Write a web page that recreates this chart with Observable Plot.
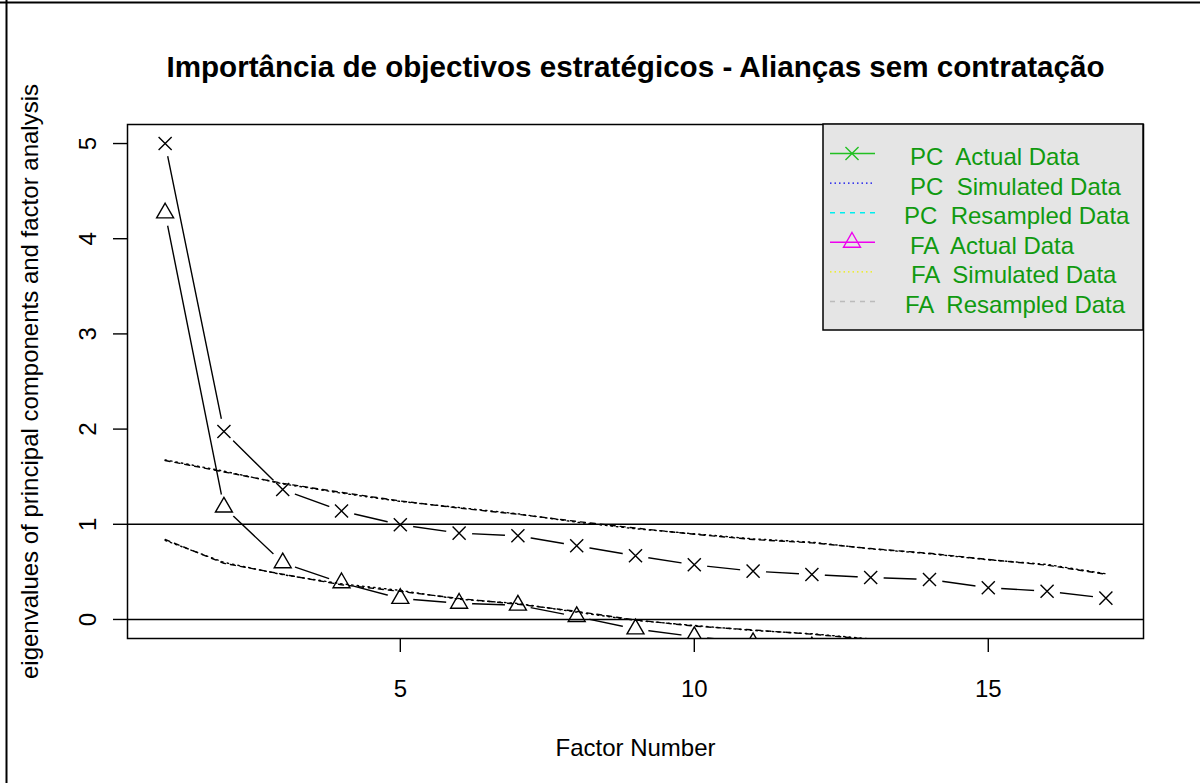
<!DOCTYPE html>
<html>
<head>
<meta charset="utf-8">
<script src="https://cdn.jsdelivr.net/npm/d3@7"></script>
<script src="https://cdn.jsdelivr.net/npm/@observablehq/plot@0.6"></script>
<style>
  html, body { margin: 0; padding: 0; background: white; }
  #chart svg { display: block; }
</style>
</head>
<body>
<div id="chart"></div>
<script>
// ---- data ----
const factors = [1, 2, 3, 4, 5, 6, 7, 8, 9, 10, 11, 12, 13, 14, 15, 16, 17];
const pcActual = [5.00, 1.975, 1.365, 1.14, 0.995, 0.907, 0.879, 0.774, 0.669, 0.574, 0.508, 0.473, 0.441, 0.42, 0.333, 0.297, 0.224];
const pcSimulated = [1.677, 1.558, 1.425, 1.327, 1.24, 1.176, 1.11, 1.022, 0.953, 0.90, 0.847, 0.812, 0.742, 0.69, 0.627, 0.578, 0.48];
const pcResampled = [1.67, 1.55, 1.43, 1.335, 1.245, 1.17, 1.105, 1.03, 0.96, 0.895, 0.84, 0.805, 0.745, 0.695, 0.63, 0.57, 0.475];
const faActual = [4.27, 1.18, 0.595, 0.385, 0.22, 0.17, 0.15, 0.03, -0.10, -0.18, -0.245, -0.29, -0.33, -0.38, -0.42, -0.47, -0.52];
const faSimulated = [0.83, 0.60, 0.47, 0.375, 0.305, 0.212, 0.168, 0.077, -0.01, -0.063, -0.116, -0.15, -0.205, -0.26, -0.31, -0.36, -0.42];
const faResampled = [0.84, 0.59, 0.475, 0.365, 0.295, 0.22, 0.16, 0.085, -0.005, -0.07, -0.11, -0.155, -0.21, -0.255, -0.30, -0.355, -0.41];
const xTicks = [5, 10, 15];
const yTicks = [0, 1, 2, 3, 4, 5];
const refLines = [0, 1];
const titleText = "Importância de objectivos estratégicos - Alianças sem contratação";
const xLabel = "Factor Number";
const yLabel = "eigenvalues of principal components and factor analysis";
const legendLabels = ["PC  Actual Data", "PC  Simulated Data", "PC  Resampled Data", "FA  Actual Data", "FA  Simulated Data", "FA  Resampled Data"];
const legendColors = ["#22c022", "#0000ee", "#00eeee", "#ee00ee", "#eeee00", "#bbbbbb"];

// ---- tables ----
const toRows = vals => factors.map((f, i) => ({f, v: vals[i]}));
const pc = toRows(pcActual), pcS = toRows(pcSimulated), pcR = toRows(pcResampled);
const fa = toRows(faActual), faS = toRows(faSimulated), faR = toRows(faResampled);

const font = "'Liberation Sans', Arial, sans-serif";
const lw = 1.4;

const chart = Plot.plot({
  width: 1200,
  height: 783,
  marginLeft: 127,
  marginRight: 57,
  marginTop: 124,
  marginBottom: 145,
  style: {fontFamily: font, fontSize: "24px", background: "white", color: "black"},
  x: {domain: [0.36, 17.64], ticks: xTicks, tickSize: 14, tickPadding: 27, label: null},
  y: {domain: [-0.2, 5.2], ticks: yTicks, tickSize: 14, tickFormat: () => "", label: null},
  marks: [
    // FA actual (type "b": line with gaps)
    Plot.line(fa, {x: "f", y: "v", stroke: "black", strokeWidth: lw, clip: true}),
    Plot.dot(fa, {x: "f", y: "v", r: 13, fill: "white", stroke: "none", clip: true}),
    // PC actual
    Plot.line(pc, {x: "f", y: "v", stroke: "black", strokeWidth: lw, clip: true}),
    Plot.dot(pc, {x: "f", y: "v", r: 13, fill: "white", stroke: "none", clip: true}),
    Plot.dot(pc, {x: "f", y: "v", symbol: "times", r: 6, stroke: "black", strokeWidth: 1.4, clip: true}),
    Plot.dot(fa, {x: "f", y: "v", symbol: "triangle", r: 6.3, fill: "none", stroke: "black", strokeWidth: 1.4, clip: true}),
    // simulated / resampled
    Plot.line(pcS, {x: "f", y: "v", stroke: "black", strokeWidth: lw, strokeDasharray: "1.5,4", clip: true}),
    Plot.line(pcR, {x: "f", y: "v", stroke: "black", strokeWidth: lw, strokeDasharray: "5,5", clip: true}),
    Plot.line(faS, {x: "f", y: "v", stroke: "black", strokeWidth: lw, strokeDasharray: "1.5,4", clip: true}),
    Plot.line(faR, {x: "f", y: "v", stroke: "black", strokeWidth: lw, strokeDasharray: "5,5", clip: true}),
    // reference lines
    Plot.ruleY(refLines, {stroke: "black", strokeWidth: 1.4}),
    // y tick labels (rotated, R style)
    Plot.text(yTicks, {y: d => d, text: d => String(d), frameAnchor: "left", dx: -32, rotate: -90,
      textAnchor: "middle", lineAnchor: "bottom", fontSize: 24}),
    // title and axis titles
    Plot.text([titleText], {frameAnchor: "top", dy: -48, lineAnchor: "bottom", fontSize: 29.6, fontWeight: "bold"}),
    Plot.text([xLabel], {frameAnchor: "bottom", dy: 117, lineAnchor: "bottom", fontSize: 24}),
    Plot.text([yLabel], {frameAnchor: "left", dx: -90, rotate: -90, lineAnchor: "bottom", textAnchor: "middle", fontSize: 24}),
    Plot.frame({stroke: "black", strokeWidth: 1.5})
  ]
});

// axis tick stroke width
d3.select(chart).selectAll("g[aria-label='x-axis tick'] path, g[aria-label='y-axis tick'] path")
  .attr("stroke-width", 1.4);

// ---- legend (layout only) ----
const svg = d3.select(chart);
const lg = svg.append("g").attr("font-family", font).attr("font-size", 24).attr("text-anchor", "start");
lg.append("rect").attr("x", 823).attr("y", 124).attr("width", 320).attr("height", 206)
  .attr("fill", "#e5e5e5").attr("stroke", "black").attr("stroke-width", 1.5);
const dashes = [null, "1.5,3", "5,5", null, "1.5,3", "5,5"];
const textX = [910, 910, 904, 910, 911, 905];
legendLabels.forEach((lab, i) => {
  const yy = 153.5 + 29.6 * i;
  lg.append("line").attr("x1", 830).attr("x2", 875).attr("y1", yy).attr("y2", yy)
    .attr("stroke", legendColors[i]).attr("stroke-width", 1.4)
    .attr("stroke-dasharray", dashes[i]);
  if (i === 0) {
    lg.append("path").attr("d", d3.symbol(d3.symbolTimes, Math.PI * 36)())
      .attr("transform", `translate(852,${yy})`).attr("fill", "none")
      .attr("stroke", legendColors[i]).attr("stroke-width", 1.4);
  }
  if (i === 3) {
    lg.append("path").attr("d", d3.symbol(d3.symbolTriangle, Math.PI * 6.3 * 6.3)())
      .attr("transform", `translate(852,${yy})`).attr("fill", "none")
      .attr("stroke", legendColors[i]).attr("stroke-width", 1.4);
  }
  lg.append("text").attr("x", textX[i]).attr("y", yy + 11.5).attr("fill", "#109a10")
    .attr("text-anchor", "start").style("white-space", "pre").text(lab);
});

// outer border (top and left)
svg.append("line").attr("x1", 0).attr("x2", 1200).attr("y1", 2.5).attr("y2", 2.5).attr("stroke", "black").attr("stroke-width", 2);
svg.append("line").attr("x1", 6.5).attr("x2", 6.5).attr("y1", 0).attr("y2", 783).attr("stroke", "black").attr("stroke-width", 2);

document.getElementById("chart").appendChild(chart);
</script>
</body>
</html>
